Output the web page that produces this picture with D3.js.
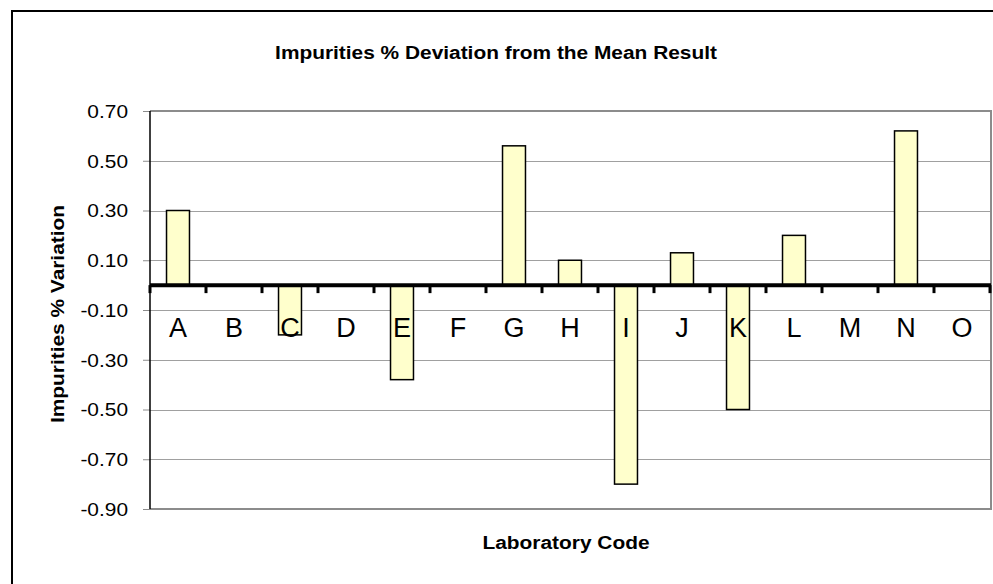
<!DOCTYPE html>
<html>
<head>
<meta charset="utf-8">
<title>Impurities % Deviation</title>
<style>
  html, body { margin: 0; padding: 0; background: #fff; }
  svg text { font-family: "Liberation Sans", Arial, sans-serif; }
</style>
</head>
<body>
<div id="chart"></div>
<script src="https://d3js.org/d3.v7.min.js"></script>
<script>
// data (blank labs have no bar)
const labs = ["A", "B", "C", "D", "E", "F", "G", "H", "I", "J", "K", "L", "M", "N", "O"];
const deviations = [0.30, null, -0.20, null, -0.38, null, 0.56, 0.10, -0.80, 0.13, -0.50, 0.20, null, 0.62, null];
const yTicks = [-0.90, -0.70, -0.50, -0.30, -0.10, 0.10, 0.30, 0.50, 0.70];

const width = 993, height = 584;
const plot = { left: 150, right: 990, top: 111, bottom: 509 };
const stretch = 1.16; // text in the original is a bit wider than Arial

const svg = d3.select("#chart").append("svg")
    .attr("width", width)
    .attr("height", height);

// outer frame (right/bottom edges fall outside the picture)
svg.append("rect")
    .attr("x", 12).attr("y", 11)
    .attr("width", 1000).attr("height", 1000)
    .attr("fill", "none")
    .attr("stroke", "#000")
    .attr("stroke-width", 2);

const x = d3.scaleBand().domain(labs).range([plot.left, plot.right]).padding(0);
const y = d3.scaleLinear().domain([-0.9, 0.7]).range([plot.bottom, plot.top]);

// gridlines
svg.append("g").selectAll("line")
    .data(yTicks.filter(t => t > -0.9))
    .join("line")
    .attr("x1", plot.left).attr("x2", plot.right)
    .attr("y1", d => Math.round(y(d)) + 0.5).attr("y2", d => Math.round(y(d)) + 0.5)
    .attr("stroke", "#a0a0a0")
    .attr("stroke-width", 1);

// plot area border (top, right, bottom in grey)
svg.append("path")
    .attr("d", `M${plot.left},${plot.top}H${plot.right + 1}V${plot.bottom}H${plot.left}`)
    .attr("fill", "none")
    .attr("stroke", "#8c8c8c")
    .attr("stroke-width", 2);

// y axis, plain hyphen for negatives like the original
const fmt = d3.format(".2f");
const yAxis = svg.append("g")
    .attr("transform", `translate(${plot.left},0)`)
    .call(d3.axisLeft(y).tickValues(yTicks)
        .tickFormat(d => fmt(d).replace("\u2212", "-"))
        .tickSize(7).tickPadding(8));
yAxis.select(".domain").remove();
yAxis.selectAll(".tick line").attr("stroke", "#8c8c8c");
yAxis.selectAll(".tick text")
    .attr("font-family", "Liberation Sans, Arial, sans-serif")
    .attr("font-size", 18)
    .attr("fill", "#000")
    .attr("dy", "0.36em")
    .attr("transform", `translate(-7,0) scale(${stretch},1)`);
yAxis.selectAll(".tick text").each(function() {
    const t = d3.select(this);
    t.attr("x", +t.attr("x") / stretch);
});
svg.append("line")
    .attr("x1", plot.left).attr("x2", plot.left)
    .attr("y1", plot.top).attr("y2", plot.bottom)
    .attr("stroke", "#000")
    .attr("stroke-width", 1.5);

// bars
const barW = x.bandwidth() * 0.41;
svg.append("g").selectAll("rect")
    .data(labs.map((l, i) => ({ lab: l, v: deviations[i] })).filter(d => d.v !== null))
    .join("rect")
    .attr("x", d => x(d.lab) + (x.bandwidth() - barW) / 2)
    .attr("y", d => y(Math.max(0, d.v)))
    .attr("width", barW)
    .attr("height", d => Math.abs(y(d.v) - y(0)))
    .attr("fill", "#ffffcc")
    .attr("stroke", "#000")
    .attr("stroke-width", 1.5);

// zero line with tick marks at band edges
const y0 = y(0);
svg.append("line")
    .attr("x1", plot.left).attr("x2", plot.right + 1)
    .attr("y1", y0).attr("y2", y0)
    .attr("stroke", "#000")
    .attr("stroke-width", 4);
svg.append("g").selectAll("line")
    .data(labs.concat(["end"]))
    .join("line")
    .attr("x1", d => d === "end" ? plot.right : x(d))
    .attr("x2", d => d === "end" ? plot.right : x(d))
    .attr("y1", y0).attr("y2", y0 + 8)
    .attr("stroke", "#000")
    .attr("stroke-width", 3);

// lab codes, drawn over the bars
svg.append("g").selectAll("text")
    .data(labs)
    .join("text")
    .attr("x", d => x(d) + x.bandwidth() / 2)
    .attr("y", 337)
    .attr("text-anchor", "middle")
    .attr("font-size", 27)
    .attr("fill", "#000")
    .text(d => d);

// titles
function stretchedText(tx, ty, rot, txt) {
    svg.append("text")
        .attr("transform", `translate(${tx},${ty}) rotate(${rot}) scale(${stretch},1)`)
        .attr("text-anchor", "middle")
        .attr("font-size", 18)
        .attr("font-weight", "bold")
        .attr("fill", "#000")
        .text(txt);
}
stretchedText(496, 59, 0, "Impurities % Deviation from the Mean Result");
stretchedText(566, 549, 0, "Laboratory Code");
stretchedText(64, 314, -90, "Impurities % Variation");
</script>
</body>
</html>
